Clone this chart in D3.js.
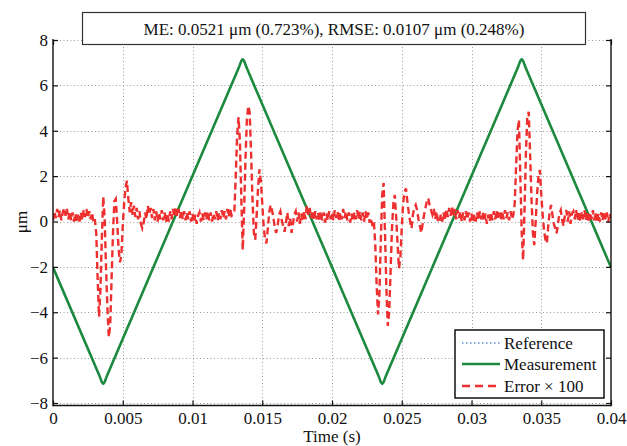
<!DOCTYPE html>
<html>
<head>
<meta charset="utf-8">
<script src="https://cdn.jsdelivr.net/npm/d3@7"></script>
<style>
  html, body { margin: 0; padding: 0; background: #fff; }
  svg { display: block; font-family: "Liberation Serif", "Times New Roman", serif; }
</style>
</head>
<body>
<svg id="chart" width="627" height="446"></svg>
<script>
// Reference displacement (triangle), µm
const referenceTime  = [0, 0.0036, 0.0136, 0.0236, 0.0336, 0.04];
const referenceValue = [-2.02, -7.2, 7.2, -7.2, 7.2, -2.02];

// Measured displacement, µm (slightly rounded at the turning points)
const measurementTime = [0, 0.0033, 0.0035, 0.0036, 0.0037, 0.0039,
  0.0133, 0.0135, 0.0136, 0.0137, 0.0139,
  0.0233, 0.0235, 0.0236, 0.0237, 0.0239,
  0.0333, 0.0335, 0.0336, 0.0337, 0.0339, 0.04];
const measurementValue = [-2.02, -6.75, -7.08, -7.15, -7.08, -6.75,
  6.75, 7.08, 7.15, 7.08, 6.75,
  -6.75, -7.08, -7.15, -7.08, -6.75,
  6.75, 7.08, 7.15, 7.08, 6.75, -2.02];

// Error × 100, sampled every 0.1 ms from t = 0
const errorStep = 0.0001;
const errorValue = [
  0.05, 0.45, 0.15, 0.55, 0.2, 0.5, 0.05, 0.4, 0.6, 0.25, 0.55, 0.1, 0.45, 0.05, 0.4, 0.0, 0.35, -0.05, 0.3, 0.0,
  0.4, 0.05, 0.5, 0.2, 0.55, 0.15, 0.45, 0.1, 0.4, -0.05, 0.1, -0.5, -2.5, -4.2, -3.0, -0.8, 1.1, 0.2, -2.0, -3.8,
  -5.1, -4.6, -2.5, -0.5, 0.9, 1.0, 0.0, -1.2, -1.8, -1.5, -0.2, 0.8, 1.5, 1.8, 1.0, 0.4, 0.85, 0.3, 0.7, 0.2,
  0.6, 0.1, 0.45, -0.1, -0.3, -0.05, 0.4, 0.1, 0.7, 0.3, 0.6, 0.15, 0.55, 0.05, 0.45, 0.0, 0.4, 0.1, 0.5, 0.05,
  0.4, -0.05, 0.35, 0.0, 0.45, 0.1, 0.55, 0.2, 0.65, 0.25, 0.55, 0.15, 0.5, 0.1, 0.45, 0.05, 0.4, 0.1, 0.45, 0.0,
  0.35, -0.05, 0.3, -0.1, 0.25, 0.4, 0.0, 0.35, 0.05, 0.4, 0.1, 0.45, 0.05, 0.4, 0.0, 0.35, 0.1, 0.45, 0.05, 0.4,
  0.1, 0.5, 0.15, 0.45, 0.1, 0.55, 0.2, 0.6, 0.25, 0.3, 0.4, 2.0, 3.8, 4.6, 3.5, 1.0, -1.26, 0.5, 2.8, 4.5,
  5.1, 4.8, 3.0, 1.0, -0.5, -0.8, 0.3, 1.5, 2.3, 1.8, 0.8, -0.2, -0.8, -0.96, -0.3, 0.4, 0.73, 0.5, 0.2, -0.3,
  -0.5, -0.2, 0.3, 0.45, 0.05, -0.2, -0.45, -0.05, 0.4, -0.2, 0.15, -0.5, -0.1, 0.3, 0.45, 0.0, 0.4, -0.1, 0.35, 0.0,
  0.45, 0.1, 0.7, 0.3, 0.6, 0.15, 0.5, 0.05, 0.45, 0.1, 0.4, 0.0, 0.45, 0.05, 0.4, -0.05, 0.35, 0.05, 0.45, 0.1,
  0.4, 0.05, 0.5, 0.15, 0.45, 0.0, 0.4, 0.1, 0.55, 0.15, 0.45, 0.05, 0.4, -0.05, 0.35, 0.0, 0.4, 0.1, 0.5, 0.1,
  0.45, 0.05, 0.4, 0.0, 0.45, 0.1, 0.4, -0.05, 0.15, -0.2, 0.0, -1.0, -2.8, -4.1, -3.2, -0.8, 1.2, 1.7, -0.5, -3.0,
  -4.6, -4.0, -2.2, -0.3, 0.8, 1.17, 0.2, -1.0, -2.07, -1.6, -0.3, 0.8, 1.3, 1.46, 0.9, 0.4, 0.0, -0.3, 0.3, 0.6,
  0.73, 0.5, 0.1, -0.2, -0.5, -0.1, 0.3, 0.6, 0.9, 1.03, 0.7, 0.5, 0.3, 0.55, 0.1, 0.45, 0.0, -0.05, 0.3, 0.0,
  0.4, 0.05, 0.55, 0.2, 0.6, 0.25, 0.65, 0.2, 0.55, 0.1, 0.5, 0.15, 0.45, 0.0, 0.4, 0.05, 0.45, 0.1, 0.4, 0.0,
  0.35, -0.05, 0.3, 0.0, 0.4, 0.05, 0.45, 0.1, 0.4, 0.0, 0.35, -0.1, 0.3, 0.0, 0.4, 0.05, 0.45, 0.1, 0.5, 0.15,
  0.4, 0.05, 0.45, 0.1, 0.5, 0.15, 0.4, 0.05, 0.45, 0.1, 0.3, 0.8, 2.5, 4.0, 4.48, 2.0, -0.5, -1.7, 0.5, 3.0,
  4.6, 4.84, 3.0, 1.0, -0.5, -1.04, 0.0, 1.2, 2.0, 2.27, 1.2, 0.3, -0.4, -0.8, -0.96, -0.2, 0.4, 0.73, 0.3, -0.1,
  -0.3, -0.52, -0.1, 0.35, 0.5, 0.05, -0.2, 0.3, 0.5, 0.0, 0.45, -0.1, 0.35, 0.45, 0.1, 0.5, 0.05, 0.45, 0.0, 0.4,
  0.1, 0.5, 0.05, 0.45, -0.05, 0.4, 0.1, 0.5, 0.05, 0.4, -0.05, 0.35, 0.0, 0.4, 0.05, 0.45, 0.1, 0.4, -0.05, 0.35,
  0.15
];

const xTicks = [0, 0.005, 0.01, 0.015, 0.02, 0.025, 0.03, 0.035, 0.04];
const xTickLabels = ["0", "0.005", "0.01", "0.015", "0.02", "0.025", "0.03", "0.035", "0.04"];
const yTicks = [-8, -6, -4, -2, 0, 2, 4, 6, 8];
const yTickLabels = ["\u22128", "\u22126", "\u22124", "\u22122", "0", "2", "4", "6", "8"];
const seriesNames = ["Reference", "Measurement", "Error \u00d7 100"];
const statsText = "ME: 0.0521 \u03bcm (0.723%), RMSE: 0.0107 \u03bcm (0.248%)";
const xLabel = "Time (s)";
const yLabel = "\u03bcm";

// ---- layout ----
const plot = { left: 53, right: 611, top: 40, bottom: 403, frameBottom: 405.5 };
const colors = { reference: "#5b8fd9", measurement: "#1b8a3e", error: "#ee2f2f", grid: "#9a9a9a" };
const fontSize = 17;

const svg = d3.select("#chart");

const x = d3.scaleLinear().domain([0, 0.04]).range([plot.left, plot.right]);
const y = d3.scaleLinear().domain([-8, 8]).range([plot.bottom, plot.top]);

// grid
const grid = svg.append("g").attr("stroke", colors.grid).attr("stroke-width", 1)
  .attr("stroke-dasharray", "1,2.5").attr("fill", "none");
grid.selectAll("line.gx").data(xTicks.slice(1, -1)).join("line")
  .attr("x1", d => Math.round(x(d)) + 0.5).attr("x2", d => Math.round(x(d)) + 0.5)
  .attr("y1", plot.top).attr("y2", plot.frameBottom);
grid.selectAll("line.gy").data(yTicks).join("line")
  .attr("x1", plot.left).attr("x2", plot.right)
  .attr("y1", d => Math.round(y(d)) + 0.5).attr("y2", d => Math.round(y(d)) + 0.5);

// data lines
svg.append("clipPath").attr("id", "plot-clip").append("rect")
  .attr("x", plot.left).attr("y", plot.top - 2)
  .attr("width", plot.right - plot.left).attr("height", plot.frameBottom - plot.top + 2);

const lineGen = d3.line().x(d => x(d[0])).y(d => y(d[1]));
const series = svg.append("g").attr("clip-path", "url(#plot-clip)").attr("fill", "none");

series.append("path")
  .datum(referenceTime.map((t, i) => [t, referenceValue[i]]))
  .attr("d", lineGen)
  .attr("stroke", colors.reference).attr("stroke-width", 1.5)
  .attr("stroke-dasharray", "1.5,2.5");

series.append("path")
  .datum(measurementTime.map((t, i) => [t, measurementValue[i]]))
  .attr("d", lineGen)
  .attr("stroke", colors.measurement).attr("stroke-width", 2.6)
  .attr("stroke-linejoin", "round");

series.append("path")
  .datum(errorValue.map((v, i) => [i * errorStep, v]))
  .attr("d", lineGen)
  .attr("stroke", colors.error).attr("stroke-width", 2.4)
  .attr("stroke-dasharray", "7,4");

// axes
const axisLeft = d3.axisLeft(y).tickValues(yTicks)
  .tickFormat((d, i) => yTickLabels[i]).tickSizeInner(-5).tickSizeOuter(0).tickPadding(5);
const axisRight = d3.axisRight(y).tickValues(yTicks)
  .tickFormat("").tickSizeInner(-5).tickSizeOuter(0);
const axisBottom = d3.axisBottom(x).tickValues(xTicks)
  .tickFormat((d, i) => xTickLabels[i]).tickSizeInner(-5).tickSizeOuter(0).tickPadding(6.5);
const axisTop = d3.axisTop(x).tickValues(xTicks)
  .tickFormat("").tickSizeInner(-5).tickSizeOuter(0);

function styleAxis(g) {
  g.select(".domain").remove();
  g.selectAll(".tick line").attr("stroke", "#111").attr("stroke-width", 1.2);
  g.selectAll(".tick text").attr("fill", "#111")
    .style("font-family", "'Liberation Serif', 'Times New Roman', serif")
    .style("font-size", fontSize + "px");
}

svg.append("g").attr("transform", `translate(${plot.left},0)`).call(axisLeft).call(styleAxis);
svg.append("g").attr("transform", `translate(${plot.right},0)`).call(axisRight).call(styleAxis);
svg.append("g").attr("transform", `translate(0,${plot.frameBottom})`).call(axisBottom).call(styleAxis);
svg.append("g").attr("transform", `translate(0,${plot.top})`).call(axisTop).call(styleAxis);

// frame: left, right, bottom
const frame = svg.append("g").attr("stroke", "#111").attr("stroke-width", 1.4).attr("fill", "none");
frame.append("line").attr("x1", plot.left).attr("x2", plot.left).attr("y1", plot.top - 1).attr("y2", plot.frameBottom + 0.7);
frame.append("line").attr("x1", plot.right).attr("x2", plot.right).attr("y1", plot.top - 1).attr("y2", plot.frameBottom + 0.7);
frame.append("line").attr("x1", plot.left).attr("x2", plot.right).attr("y1", plot.frameBottom).attr("y2", plot.frameBottom);

// axis labels
svg.append("text").attr("x", (plot.left + plot.right) / 2).attr("y", 441.5)
  .attr("text-anchor", "middle").attr("font-size", fontSize).attr("fill", "#111").text(xLabel);
svg.append("text").attr("transform", "translate(27,222) rotate(-90)")
  .attr("text-anchor", "middle").attr("font-size", fontSize).attr("fill", "#111").text(yLabel);

// statistics box
const stats = svg.append("g");
stats.append("rect").attr("x", 82.5).attr("y", 12.5).attr("width", 503).attr("height", 32)
  .attr("fill", "#fff").attr("stroke", "#333").attr("stroke-width", 1.2);
stats.append("text").attr("x", 334).attr("y", 35).attr("text-anchor", "middle")
  .attr("font-size", fontSize).attr("fill", "#111").text(statsText);

// legend
const legend = svg.append("g").attr("transform", "translate(455,330)");
legend.append("rect").attr("x", 0).attr("y", 0).attr("width", 149).attr("height", 68)
  .attr("fill", "#fff").attr("stroke", "#111").attr("stroke-width", 1.5);
const legendStyles = [
  { color: colors.reference, width: 1.5, dash: "1.5,2.5" },
  { color: colors.measurement, width: 2.6, dash: null },
  { color: colors.error, width: 2.4, dash: "8,5" }
];
const rowY = [13, 34, 56];
seriesNames.forEach((name, i) => {
  const row = legend.append("g").attr("transform", `translate(0,${rowY[i]})`);
  row.append("line").attr("x1", 7).attr("x2", 45).attr("y1", 0).attr("y2", 0)
    .attr("stroke", legendStyles[i].color).attr("stroke-width", legendStyles[i].width)
    .attr("stroke-dasharray", legendStyles[i].dash);
  row.append("text").attr("x", 49).attr("y", 0).attr("dy", "0.35em")
    .attr("font-size", fontSize).attr("fill", "#111").text(name);
});
</script>
</body>
</html>
